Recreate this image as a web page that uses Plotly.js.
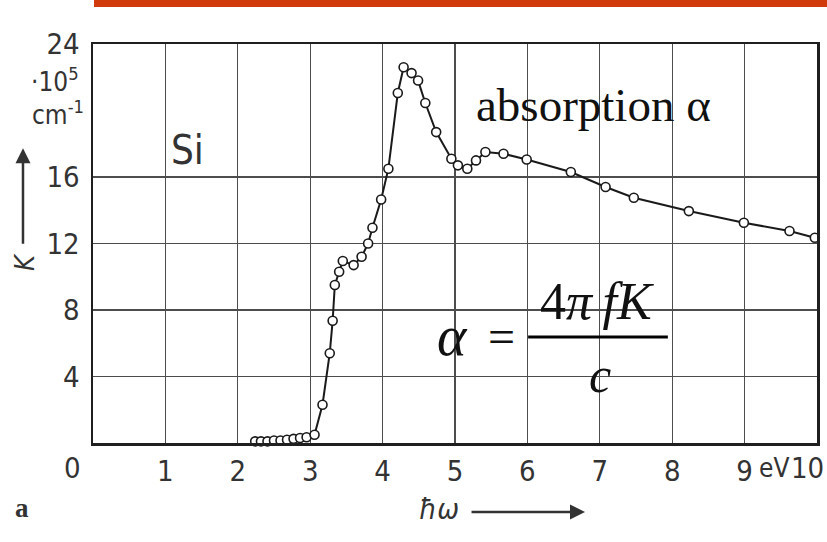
<!DOCTYPE html>
<html>
<head>
<meta charset="utf-8">
<script src="https://cdn.plot.ly/plotly-3.0.1.min.js"></script>
<style>
  html, body { margin: 0; padding: 0; background: #ffffff; }
  #chart { width: 827px; height: 542px; }
</style>
</head>
<body>
<div id="chart"></div>
<script>
// Extinction coefficient K of silicon versus photon energy
const energyEV = [2.24, 2.32, 2.41, 2.50, 2.59, 2.68, 2.77, 2.86, 2.95, 3.06,
                  3.17, 3.27, 3.31, 3.34, 3.40, 3.45, 3.60, 3.71, 3.80, 3.86,
                  3.98, 4.08, 4.21, 4.29, 4.40, 4.49, 4.59, 4.74, 4.95, 5.04,
                  5.17, 5.29, 5.42, 5.67, 5.99, 6.60, 7.08, 7.47, 8.23, 8.99,
                  9.62, 9.97];
const kappa = [0.10, 0.10, 0.10, 0.15, 0.15, 0.20, 0.25, 0.30, 0.35, 0.50,
               2.3, 5.4, 7.35, 9.5, 10.3, 10.95, 10.7, 11.2, 12.0, 12.95,
               14.65, 16.5, 21.05, 22.6, 22.25, 21.8, 20.45, 18.7, 17.1, 16.7,
               16.5, 17.0, 17.5, 17.4, 17.05, 16.3, 15.4, 14.75, 13.95, 13.25,
               12.75, 12.35];

// the last label (10) is set flush with the right edge separately
const xTickVals = [1, 2, 3, 4, 5, 6, 7, 8, 9];
const xTickText = ['1', '2', '3', '4', '5', '6', '7', '8', '9'];
const yTickVals = [4, 8, 12, 16, 24];
const yTickText = ['4', '8', '12', '16', '24'];

const tickFamily = '"Liberation Sans Narrow", "DejaVu Sans Condensed", sans-serif';
const serifFamily = '"Liberation Serif", "DejaVu Serif", serif';
const inkGray = '#333333';
const tickFont = { family: tickFamily, size: 29, color: inkGray };
const unitFont = { family: tickFamily, size: 26, color: inkGray };

const trace = {
  x: energyEV,
  y: kappa,
  type: 'scatter',
  mode: 'lines+markers',
  line: { color: '#1a1a1a', width: 2 },
  marker: { symbol: 'circle', size: 9, color: '#ffffff',
            line: { color: '#1a1a1a', width: 1.6 } },
  cliponaxis: false,
  hoverinfo: 'x+y'
};

const axisCommon = {
  showgrid: true,
  gridcolor: '#4d4d4d',
  gridwidth: 1.3,
  showline: true,
  mirror: true,
  linecolor: '#1f1f1f',
  linewidth: 2.5,
  zeroline: false,
  ticks: 'outside',
  tickcolor: 'rgba(0,0,0,0)',
  tickfont: tickFont,
  fixedrange: true
};

// text placed around the plotting area, in paper coordinates, centred on (x, y)
function paperText(text, x, y, font, extra) {
  return Object.assign({ text: text, xref: 'paper', yref: 'paper', x: x, y: y,
                         xanchor: 'center', yanchor: 'middle',
                         showarrow: false, font: font }, extra || {});
}

const layout = {
  width: 827,
  height: 542,
  margin: { l: 93, r: 10, t: 44, b: 99 },
  paper_bgcolor: '#ffffff',
  plot_bgcolor: '#ffffff',
  showlegend: false,
  xaxis: Object.assign({}, axisCommon, {
    range: [0, 10],
    tickmode: 'array',
    tickvals: xTickVals,
    ticktext: xTickText,
    ticklen: 1
  }),
  yaxis: Object.assign({}, axisCommon, {
    range: [0, 24],
    tickmode: 'array',
    tickvals: yTickVals,
    ticktext: yTickText,
    ticklen: 5
  }),
  shapes: [
    // banner strip along the top edge
    { type: 'rect', xref: 'paper', yref: 'paper',
      x0: 0.0014, x1: 1.02, y0: 1.0927, y1: 1.12,
      fillcolor: '#d13b0b', line: { width: 0 }, layer: 'above' },
    // blank panel behind the "absorption" caption
    { type: 'rect', xref: 'x', yref: 'y',
      x0: 5.05, x1: 8.8, y0: 18.5, y1: 24,
      fillcolor: '#ffffff', line: { width: 0 }, layer: 'below' },
    // blank panel behind the formula
    { type: 'rect', xref: 'x', yref: 'y',
      x0: 4.63, x1: 8.08, y0: 2.75, y1: 10.5,
      fillcolor: '#ffffff', line: { width: 0 }, layer: 'below' },
    // fraction bar of the formula
    { type: 'line', xref: 'x', yref: 'y',
      x0: 6.01, x1: 7.94, y0: 6.38, y1: 6.38,
      line: { color: '#000000', width: 3 }, layer: 'above' }
  ],
  annotations: [
    paperText('0', -0.029, -0.0627, tickFont),
    paperText('eV', 0.9405, -0.0627, unitFont),
    paperText('10', 1.0124, -0.0627, tickFont, { xanchor: 'right' }),
    paperText('·10<sup>5</sup>', -0.016, 0.91, unitFont, { xanchor: 'right' }),
    paperText('cm<sup>-1</sup>', -0.010, 0.828, unitFont, { xanchor: 'right' }),
    { text: 'Si', xref: 'x', yref: 'y', x: 1.31, y: 17.6, showarrow: false,
      font: { family: tickFamily, size: 40, color: inkGray } },
    // y-axis quantity with upward arrow
    paperText('<i>K</i>', -0.0953, 0.4536,
              { family: tickFamily, size: 27, color: inkGray }, { textangle: -90 }),
    { text: '', xref: 'paper', yref: 'paper', x: -0.0967, y: 0.739,
      ax: 0, ay: 97, showarrow: true, arrowhead: 2, arrowsize: 1.2,
      arrowwidth: 2.5, arrowcolor: inkGray },
    // x-axis quantity with rightward arrow
    paperText('<i>ħω</i>', 0.478, -0.165,
              { family: tickFamily, size: 29, color: inkGray }),
    { text: '', xref: 'paper', yref: 'paper', x: 0.6796, y: -0.1729,
      ax: -115, ay: 0, showarrow: true, arrowhead: 2, arrowsize: 1.2,
      arrowwidth: 2.5, arrowcolor: inkGray },
    paperText('<b>a</b>', -0.098, -0.163,
              { family: serifFamily, size: 27, color: inkGray }),
    // caption and formula
    { text: 'absorption α', xref: 'x', yref: 'y', x: 6.91, y: 20.33,
      showarrow: false,
      font: { family: serifFamily, size: 47, color: '#111111' } },
    { text: '<i>α</i>', xref: 'x', yref: 'y', x: 4.97, y: 6.45,
      showarrow: false,
      font: { family: serifFamily, size: 56, color: '#111111' } },
    { text: '=', xref: 'x', yref: 'y', x: 5.64, y: 6.4,
      showarrow: false,
      font: { family: serifFamily, size: 48, color: '#111111' } },
    { text: '4<i>π</i>&#8201;<i>fK</i>', xref: 'x', yref: 'y', x: 6.96, y: 8.5,
      showarrow: false,
      font: { family: serifFamily, size: 52, color: '#111111' } },
    { text: '<i>c</i>', xref: 'x', yref: 'y', x: 7.0, y: 4.1,
      showarrow: false,
      font: { family: serifFamily, size: 50, color: '#111111' } }
  ]
};

Plotly.newPlot('chart', [trace], layout, { displayModeBar: false, staticPlot: true });
</script>
</body>
</html>
